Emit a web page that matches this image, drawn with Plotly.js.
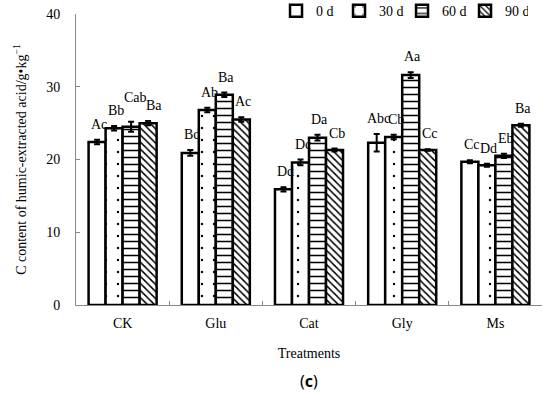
<!DOCTYPE html>
<html><head><meta charset="utf-8">
<script src="https://cdn.plot.ly/plotly-3.0.1.min.js"></script>
<style>html,body{margin:0;padding:0;background:#fff}#plot{width:550px;height:398px}</style>
</head><body><div id="plot"></div>
<script>
const categories = ["CK", "Glu", "Cat", "Gly", "Ms"];
const seriesNames = ["0 d", "30 d", "60 d", "90 d"];
const values0 = [22.4, 20.9, 15.9, 22.3, 19.7];
const values30 = [24.3, 26.8, 19.6, 23.1, 19.2];
const values60 = [24.5, 28.9, 23.0, 31.6, 20.5];
const values90 = [25.0, 25.5, 21.3, 21.3, 24.7];
const err0 = [0.3, 0.4, 0.3, 1.2, 0.2];
const err30 = [0.3, 0.3, 0.4, 0.3, 0.2];
const err60 = [0.7, 0.3, 0.4, 0.4, 0.3];
const err90 = [0.3, 0.3, 0.2, 0.1, 0.2];
const labels0 = ["Ac", "Bd", "Dd", "Abc", "Cc"];
const labels30 = ["Bb", "Ab", "Dc", "Cb", "Dd"];
const labels60 = ["Cab", "Ba", "Da", "Aa", "Eb"];
const labels90 = ["Ba", "Ac", "Cb", "Cc", "Ba"];

const values = [values0, values30, values60, values90];
const errs = [err0, err30, err60, err90];
const labels = [labels0, labels30, labels60, labels90];
const patterns = [
  {shape: ""},
  {shape: ".", size: 12, solidity: 0.03, fgcolor: "#000", bgcolor: "#fff"},
  {shape: "-", size: 7, solidity: 0.22, fgcolor: "#000", bgcolor: "#fff"},
  {shape: "\\", size: 5, solidity: 0.3, fgcolor: "#000", bgcolor: "#fff"}
];
const font = "Liberation Serif, Times New Roman, serif";

const traces = values.map((v, i) => ({
  type: "bar", name: seriesNames[i], x: categories, y: v,
  marker: {color: "#fff", pattern: patterns[i], line: {color: "#000", width: 2.5}},
  error_y: {type: "data", array: errs[i], visible: true, color: "#000", thickness: 2, width: 3}
}));

const barPx = 17;
// layout nudges for crowded labels (series index - category index)
const labelNudgeY = {"2-0": 9};
const labelNudgeX = {"2-0": 2, "3-0": 4};
const annotations = [];
labels.forEach((lab, i) => {
  lab.forEach((t, j) => {
    const key = i + "-" + j;
    annotations.push({
      x: categories[j], y: values[i][j] + errs[i][j], xref: "x", yref: "y",
      text: t, showarrow: false, yanchor: "bottom", xanchor: "center",
      xshift: (i - 1.5) * barPx + 2 + (labelNudgeX[key] || 0),
      yshift: 6 + (labelNudgeY[key] || 0),
      font: {family: font, size: 14, color: "#000"}
    });
  });
});
annotations.push({
  x: 0.5, y: -0.305, xref: "paper", yref: "paper", showarrow: false,
  text: "(<b>c</b>)", font: {family: "Noto Sans, sans-serif", size: 16, color: "#000"}
});

const layout = {
  width: 550, height: 398,
  margin: {l: 76, r: 8, t: 14, b: 93, autoexpand: false},
  paper_bgcolor: "#fff", plot_bgcolor: "#fff",
  barmode: "group", bargap: 0.27, bargroupgap: 0,
  showlegend: true,
  legend: {orientation: "h", x: 0.97, xanchor: "right", y: 1.01, yanchor: "middle",
    entrywidth: 18, entrywidthmode: "pixels",
    font: {family: font, size: 14, color: "#000"}, traceorder: "normal",
    bgcolor: "rgba(0,0,0,0)"},
  font: {family: font, size: 14, color: "#000"},
  xaxis: {
    type: "category", showline: true, linecolor: "#888", linewidth: 1,
    ticks: "inside", tickson: "boundaries", ticklen: 4, tickcolor: "#888",
    showgrid: false, zeroline: false, ticklabelstandoff: 5,
    tickfont: {family: font, size: 14, color: "#000"},
    title: {text: "Treatments", font: {family: font, size: 14, color: "#000"}, standoff: 18}
  },
  yaxis: {
    range: [0, 40], dtick: 10, showline: true, linecolor: "#888", linewidth: 1,
    ticks: "inside", ticklen: 4, tickcolor: "#888", showgrid: false, zeroline: false,
    ticklabelstandoff: 12,
    tickfont: {family: font, size: 14, color: "#000"},
    title: {text: "C content of humic-extracted acid/g•kg<sup>−1</sup>", font: {family: font, size: 14, color: "#000"}, standoff: 16}
  },
  annotations: annotations
};
Plotly.newPlot("plot", traces, layout, {displayModeBar: false, staticPlot: true});
</script></body></html>
